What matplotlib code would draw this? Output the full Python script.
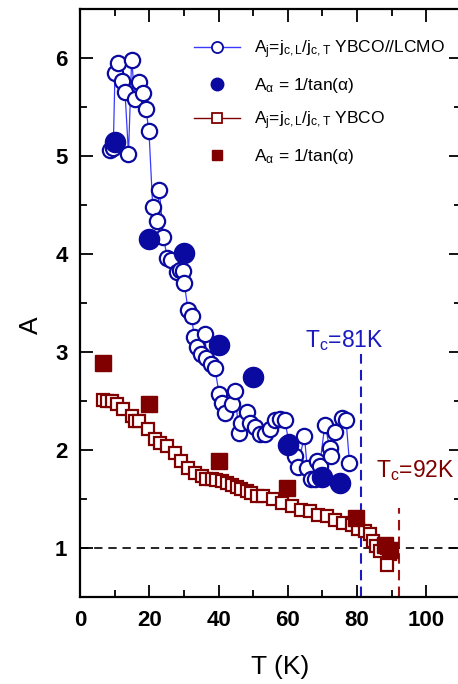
import matplotlib
matplotlib.use("Agg")
import matplotlib.pyplot as plt
from matplotlib.lines import Line2D
from matplotlib.ticker import MultipleLocator

plt.rcParams['font.family'] = ['Liberation Sans', 'DejaVu Sans']
plt.rcParams['mathtext.fontset'] = 'custom'
plt.rcParams['mathtext.rm'] = 'Liberation Sans'
plt.rcParams['mathtext.it'] = 'Liberation Sans:italic'
plt.rcParams['mathtext.bf'] = 'Liberation Sans:bold'

# YBCO//LCMO, A_j (open circles)
T_lcmo = [8.65, 9.6, 10.1, 11.0, 12.2, 13.0, 14.0, 14.9, 15.9, 17.1, 18.1, 19.0, 19.9,
          21.0, 22.1, 22.9, 24.1, 25.2, 26.4, 27.9, 28.8, 29.6, 30.1, 31.2, 32.2, 33.0,
          33.7, 34.8, 36.1, 36.5, 37.7, 38.9, 40.2, 40.9, 41.8, 44.0, 44.7, 45.9, 46.6,
          48.1, 49.0, 50.5, 51.9, 53.4, 54.8, 56.2, 57.7, 59.1, 60.3, 62.0, 62.8, 64.8,
          65.6, 66.8, 67.8, 68.3, 69.2, 70.7, 72.1, 72.6, 73.6, 75.5, 76.8, 77.8]
A_lcmo = [5.06, 5.08, 5.85, 5.95, 5.77, 5.65, 5.02, 5.98, 5.58, 5.76, 5.64, 5.48, 5.26,
          4.48, 4.34, 4.65, 4.17, 3.96, 3.94, 3.82, 3.84, 3.83, 3.70, 3.43, 3.37, 3.15,
          3.05, 2.98, 3.18, 2.94, 2.88, 2.84, 2.57, 2.48, 2.38, 2.47, 2.60, 2.17, 2.28,
          2.39, 2.28, 2.23, 2.16, 2.16, 2.21, 2.31, 2.32, 2.31, 2.08, 1.94, 1.83, 2.14,
          1.82, 1.70, 1.70, 1.89, 1.84, 2.26, 2.02, 1.94, 2.18, 2.33, 2.31, 1.87]

# YBCO//LCMO, A_alpha (filled circles)
T_lcmo_a = [10, 20, 30, 40, 50, 60, 70, 75]
A_lcmo_a = [5.14, 4.15, 4.01, 3.07, 2.75, 2.05, 1.72, 1.66]

# YBCO, A_j (open squares)
T_ybco = [6.5, 7.7, 9.1, 10.6, 12.5, 14.9, 15.9, 17.1, 19.7, 21.6, 23.1, 25.0, 27.4,
          29.3, 31.2, 33.2, 35.1, 36.5, 38.0, 39.4, 40.9, 42.3, 43.8, 45.2, 46.6, 48.1,
          49.5, 51.0, 52.9, 55.8, 58.2, 61.1, 63.9, 66.3, 68.7, 71.2, 73.6, 75.9, 78.4,
          80.3, 82.2, 83.6, 84.6, 85.6, 86.5, 88.5, 89.4, 88.5]
A_ybco = [2.51, 2.50, 2.50, 2.47, 2.42, 2.35, 2.30, 2.30, 2.21, 2.11, 2.07, 2.04, 1.97,
          1.89, 1.82, 1.77, 1.73, 1.70, 1.70, 1.69, 1.68, 1.66, 1.64, 1.62, 1.60, 1.58,
          1.56, 1.53, 1.53, 1.50, 1.46, 1.43, 1.39, 1.38, 1.34, 1.33, 1.29, 1.26, 1.23,
          1.19, 1.17, 1.14, 1.07, 1.02, 0.97, 1.00, 0.94, 0.83]

# YBCO, A_alpha (filled squares)
T_ybco_a = [6.6, 20.0, 40.2, 59.9, 79.8, 88.0, 89.5]
A_ybco_a = [2.89, 2.47, 1.89, 1.61, 1.31, 1.03, 0.98]

Tc_lcmo = 81
Tc_ybco = 92

blue_line = '#3a3aff'
blue = '#0a0aa0'
red = '#800000'

fig = plt.figure(figsize=(4.58, 6.84), dpi=100)
ax = fig.add_axes([80/458, 1-597/684, 381/458, 588/684])

ax.axhline(1, color='black', lw=1.2, ls=(0, (5, 3.5)), zorder=1)
ax.plot([Tc_lcmo, Tc_lcmo], [0.5, 2.98], color='#1a1ac0', lw=1.5, ls=(0, (5, 3)), zorder=1)
ax.plot([Tc_ybco, Tc_ybco], [0.5, 1.41], color='#a01010', lw=1.5, ls=(0, (5, 3)), zorder=1)

ax.plot(T_lcmo, A_lcmo, '-', color=blue_line, lw=0.9, marker='o', ms=11,
        mfc='white', mec=blue, mew=1.6, zorder=3)
ax.plot(T_lcmo_a, A_lcmo_a, 'o', color=blue, ms=14.5, zorder=4)
ax.plot(T_ybco, A_ybco, '-', color=red, lw=0.9, marker='s', ms=9, mfc='white',
        mec=red, mew=1.6, zorder=3)
ax.plot(T_ybco_a, A_ybco_a, 's', color=red, ms=12, zorder=4)

ax.text(65, 3.05, r'T$_\mathrm{c}$=81K', color='#1a1ac0', fontsize=16.5)
ax.text(85.5, 1.72, r'T$_\mathrm{c}$=92K', color=red, fontsize=16.5)

ax.set_xlim(0, 110)
ax.set_ylim(0.5, 6.5)
ax.xaxis.set_major_locator(MultipleLocator(20))
ax.xaxis.set_minor_locator(MultipleLocator(10))
ax.yaxis.set_major_locator(MultipleLocator(1))
ax.yaxis.set_minor_locator(MultipleLocator(0.5))
ax.set_xticks([0, 20, 40, 60, 80, 100])
ax.tick_params(which='both', direction='in', top=True, right=True, width=1.3)
ax.tick_params(which='major', length=9, labelsize=16, pad=9)
ax.tick_params(which='minor', length=5)
for lab in ax.get_xticklabels() + ax.get_yticklabels():
    lab.set_fontweight('bold')
for sp in ax.spines.values():
    sp.set_linewidth(1.6)

ax.set_xlabel('T (K)', fontsize=19)
ax.set_ylabel('A', fontsize=19)
ax.xaxis.set_label_coords(0.525, -0.098)
ax.yaxis.set_label_coords(-0.097, 0.463)

handles = [
    Line2D([], [], color=blue_line, lw=1, marker='o', ms=8, mfc='white', mec=blue, mew=1.3),
    Line2D([], [], ls='none', marker='o', ms=9, color=blue),
    Line2D([], [], color=red, lw=1, marker='s', ms=7, mfc='white', mec=red, mew=1.3),
    Line2D([], [], ls='none', marker='s', ms=7.5, color=red),
]
labels = [
    r'A$_\mathrm{j}$=j$_\mathrm{c,L}$/j$_\mathrm{c,T}$ YBCO//LCMO',
    r'A$_\mathrm{α}$ = 1/tan(α)',
    r'A$_\mathrm{j}$=j$_\mathrm{c,L}$/j$_\mathrm{c,T}$ YBCO',
    r'A$_\mathrm{α}$ = 1/tan(α)',
]
ax.legend(handles, labels, loc='upper left', bbox_to_anchor=(0.28, 0.962),
          frameon=False, fontsize=12.5, handlelength=2.7, handletextpad=0.8,
          labelspacing=0.85, borderaxespad=0)

fig.savefig('out.png', dpi=100)
